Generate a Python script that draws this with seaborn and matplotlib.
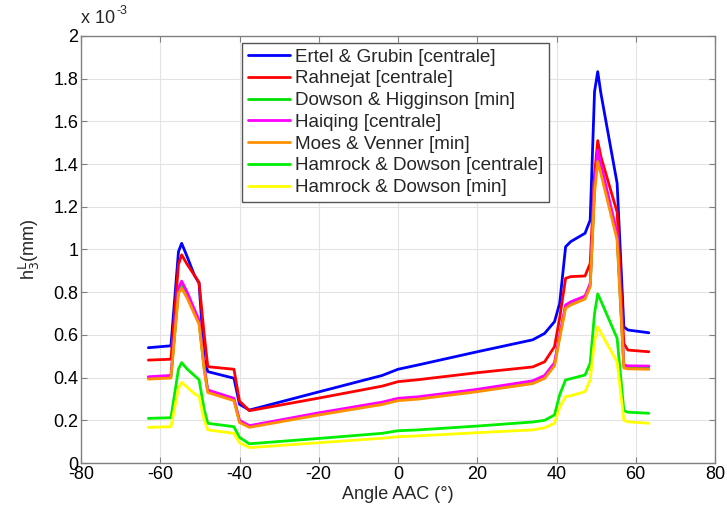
import numpy as np
import pandas as pd
import seaborn as sns
import matplotlib
matplotlib.use("Agg")
import matplotlib.pyplot as plt

# angle grid (deg) shared by all series
angle = [-63, -57.3, -55.4, -54.6, -53.2, -51.4, -50.2, -48.9, -48.0, -41.4, -40.0, -37.5,
         -20, -4, 0, 5, 20, 34, 37, 39.5, 40.8, 42.3, 43.6, 47.2, 48.5, 49.6, 50.4, 51.2,
         55.3, 57.0, 58.0, 63.3]

# film thickness, in units of 1e-3 mm
ertel = [0.540, 0.549, 0.990, 1.029, 0.966, 0.880, 0.842, 0.482, 0.428, 0.397, 0.275, 0.248,
         0.333, 0.410, 0.439, 0.459, 0.521, 0.577, 0.607, 0.662, 0.748, 1.013, 1.037, 1.076,
         1.138, 1.739, 1.833, 1.732, 1.310, 0.638, 0.623, 0.610]
rahnejat = [0.482, 0.486, 0.930, 0.975, 0.930, 0.880, 0.845, 0.600, 0.451, 0.439, 0.290, 0.245,
            0.304, 0.360, 0.381, 0.390, 0.423, 0.450, 0.474, 0.545, 0.680, 0.865, 0.873, 0.876,
            0.935, 1.350, 1.510, 1.435, 1.175, 0.560, 0.529, 0.521]
dowson_higg = [0.398, 0.404, 0.810, 0.838, 0.788, 0.710, 0.660, 0.442, 0.335, 0.297, 0.195, 0.171,
               0.230, 0.279, 0.297, 0.304, 0.339, 0.378, 0.403, 0.462, 0.592, 0.733, 0.748, 0.775,
               0.832, 1.285, 1.440, 1.380, 1.060, 0.452, 0.448, 0.447]
haiqing = [0.404, 0.410, 0.820, 0.852, 0.800, 0.720, 0.670, 0.450, 0.342, 0.303, 0.200, 0.175,
           0.235, 0.285, 0.303, 0.310, 0.345, 0.385, 0.410, 0.470, 0.600, 0.740, 0.755, 0.782,
           0.840, 1.300, 1.466, 1.400, 1.076, 0.459, 0.455, 0.454]
moes = [0.393, 0.398, 0.795, 0.818, 0.772, 0.698, 0.650, 0.435, 0.330, 0.292, 0.190, 0.167,
        0.225, 0.274, 0.292, 0.299, 0.334, 0.372, 0.396, 0.455, 0.585, 0.725, 0.740, 0.768,
        0.825, 1.265, 1.411, 1.355, 1.045, 0.445, 0.441, 0.439]
hamrock_c = [0.209, 0.212, 0.440, 0.470, 0.440, 0.410, 0.390, 0.250, 0.186, 0.170, 0.120, 0.090,
             0.115, 0.139, 0.151, 0.155, 0.173, 0.192, 0.200, 0.225, 0.320, 0.389, 0.395, 0.412,
             0.467, 0.700, 0.792, 0.760, 0.584, 0.245, 0.238, 0.233]
hamrock_m = [0.167, 0.170, 0.350, 0.378, 0.355, 0.325, 0.311, 0.200, 0.155, 0.139, 0.095, 0.072,
             0.095, 0.116, 0.123, 0.127, 0.142, 0.155, 0.165, 0.186, 0.260, 0.311, 0.315, 0.334,
             0.389, 0.570, 0.638, 0.610, 0.474, 0.200, 0.193, 0.186]

labels = ["Ertel & Grubin [centrale]", "Rahnejat [centrale]", "Dowson & Higginson [min]",
          "Haiqing [centrale]", "Moes & Venner [min]", "Hamrock & Dowson [centrale]",
          "Hamrock & Dowson [min]"]
series = [ertel, rahnejat, dowson_higg, haiqing, moes, hamrock_c, hamrock_m]
colors = ["#0000ff", "#ff0000", "#00e000", "#ff00ff", "#ff9000", "#00ee00", "#ffff00"]

df = pd.concat([pd.DataFrame({"angle": angle, "h": s, "model": lab})
                for s, lab in zip(series, labels)], ignore_index=True)

sns.set_style("whitegrid")
plt.rcParams["font.family"] = ["Liberation Sans", "DejaVu Sans"]
plt.rcParams["axes.unicode_minus"] = False

fig = plt.figure(figsize=(7.27, 5.11), dpi=100)
ax = fig.add_axes([81 / 727, 48 / 511, 634 / 727, 427 / 511])

sns.lineplot(data=df, x="angle", y="h", hue="model", hue_order=labels,
             palette=dict(zip(labels, colors)), sort=False, estimator=None,
             linewidth=2.0, ax=ax)

ax.set_xlim(-80, 80)
ax.set_ylim(0, 2)
ax.set_xticks(np.arange(-80, 81, 20))
ax.set_yticks(np.arange(0, 2.01, 0.2))
ax.set_yticklabels([f"{v:g}" for v in np.arange(0, 2.01, 0.2).round(1)])
ax.grid(True, color="#e3e3e3", linewidth=0.8)
for sp in ax.spines.values():
    sp.set_color("#808080")
    sp.set_linewidth(1.0)
ax.tick_params(direction="in", length=4, color="#808080", labelsize=13,
               labelcolor="black", pad=2, top=True, right=True, bottom=True, left=True)
ax.set_xlabel("Angle AAC (°)", fontsize=13, labelpad=2)
ax.set_ylabel("h$_3^\\mathrm{L}$(mm)", fontsize=13, labelpad=8)
ax.text(0.0, 1.02, "x 10", transform=ax.transAxes, fontsize=13, ha="left", va="bottom")
ax.text(0.056, 1.045, "-3", transform=ax.transAxes, fontsize=9, ha="left", va="bottom")

leg = ax.legend(loc="upper left", bbox_to_anchor=(0.2544, 0.984), borderaxespad=0,
                fontsize=13.6, frameon=True, fancybox=False, handlelength=2.2,
                labelspacing=0.24, borderpad=0.3, handletextpad=0.3)
leg.get_frame().set_edgecolor("#555555")
leg.get_frame().set_linewidth(1.0)
leg.get_frame().set_alpha(1)

fig.savefig("out.png", dpi=100)
